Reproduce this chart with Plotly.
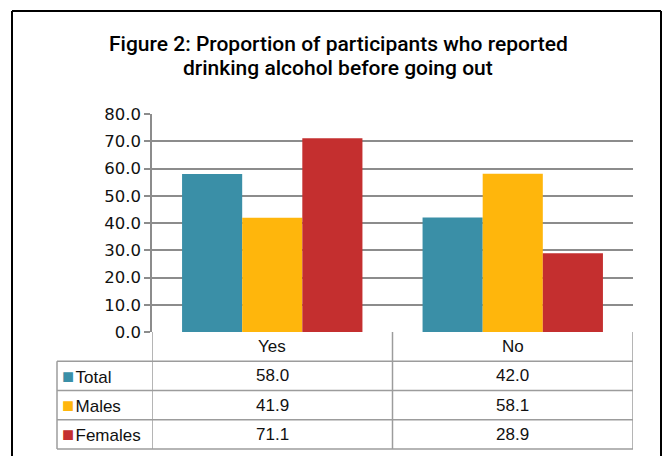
import plotly.graph_objects as go

categories = ["Yes", "No"]
series_names = ["Total", "Males", "Females"]
total = [58.0, 42.0]
males = [41.9, 58.1]
females = [71.1, 28.9]
colors = ["#3A8FA7", "#FFB60C", "#C42F2F"]
y_ticks = [0, 10, 20, 30, 40, 50, 60, 70, 80]
title_lines = ["Figure 2: Proportion of participants who reported",
               "drinking alcohol before going out"]

W, H = 663, 456
values = [total, males, females]

fig = go.Figure()
for name, vals, col in zip(series_names, values, colors):
    fig.add_trace(go.Bar(x=list(range(len(categories))), y=vals, name=name,
                         marker_color=col, marker_line_width=0, showlegend=False))

# plot area in pixels
px_l, px_r, py_top, py_bot = 152, 633, 114, 332
xd = [px_l / W, px_r / W]
yd = [(H - py_bot) / H, (H - py_top) / H]

def py(p):  # pixel y -> paper y
    return (H - p) / H

# ---- data table below the plot ----
tbl_left, tbl_bot = 57, 449
n_rows = len(series_names) + 1
row_h = (tbl_bot - py_bot) / n_rows
grid = "#9c9c9c"
shapes = []
for r in range(1, n_rows + 1):
    yy = py(py_bot + r * row_h)
    shapes.append(dict(type="line", xref="paper", yref="paper",
                       x0=tbl_left / W, x1=px_r / W, y0=yy, y1=yy,
                       line=dict(color=grid, width=1.5)))
shapes.append(dict(type="line", xref="paper", yref="paper",
                   x0=tbl_left / W, x1=tbl_left / W, y0=py(py_bot + row_h), y1=py(tbl_bot),
                   line=dict(color=grid, width=1.5)))
for i in range(len(categories) + 1):
    shapes.append(dict(type="line", xref="x", yref="paper",
                       x0=i - 0.5, x1=i - 0.5, y0=yd[0], y1=py(tbl_bot),
                       line=dict(color=grid, width=1.5)))
# outer frame (top, left, right; bottom is outside the picture)
fx0, fx1, fy1 = 12 / W, 661 / W, py(11)
frame = dict(color="black", width=2)
shapes.append(dict(type="line", xref="paper", yref="paper", x0=fx0, x1=fx1, y0=fy1, y1=fy1, line=frame))
shapes.append(dict(type="line", xref="paper", yref="paper", x0=fx0, x1=fx0, y0=0, y1=fy1, line=frame))
shapes.append(dict(type="line", xref="paper", yref="paper", x0=fx1, x1=fx1, y0=0, y1=fy1, line=frame))

tfont = dict(family="Liberation Sans, Arial", size=17, color="#111")
annotations = []
# title
for line, yc in zip(title_lines, [44, 68]):
    annotations.append(dict(x=338 / W, xref="paper", y=py(yc), yref="paper",
                            text=line, showarrow=False, xanchor="center", yanchor="middle",
                            font=dict(family="Roboto, Liberation Sans, Arial", size=21,
                                      color="#000", weight=500)))
for i, cat in enumerate(categories):
    annotations.append(dict(x=i, xref="x", y=py(py_bot + row_h / 2), yref="paper",
                            text=cat, showarrow=False, font=tfont,
                            xanchor="center", yanchor="middle"))
for r, (name, vals, col) in enumerate(zip(series_names, values, colors)):
    yc = py(py_bot + (r + 1.5) * row_h)
    annotations.append(dict(x=(tbl_left + 3) / W, xref="paper", y=yc, yref="paper",
                            text=f'<span style="color:{col};font-size:20px">■</span>\u200a{name}',
                            showarrow=False, font=tfont,
                            xanchor="left", yanchor="middle"))
    for i in range(len(categories)):
        annotations.append(dict(x=i, xref="x", y=yc, yref="paper",
                                text=f"{vals[i]:.1f}", showarrow=False, font=tfont,
                                xanchor="center", yanchor="middle"))

fig.update_layout(
    width=W, height=H, autosize=False, showlegend=False,
    margin=dict(l=0, r=0, t=0, b=0, pad=0, autoexpand=False),
    paper_bgcolor="white", plot_bgcolor="white",
    barmode="group", bargap=0.25, bargroupgap=0,
    xaxis=dict(domain=xd, range=[-0.5, len(categories) - 0.5], automargin=False,
               showticklabels=False, ticks="", showline=False,
               showgrid=False, zeroline=False, fixedrange=True),
    yaxis=dict(domain=yd, range=[0, 80], tickvals=y_ticks, automargin=False,
               ticktext=[f"{t:.1f}" for t in y_ticks],
               showgrid=True, gridcolor="#8c8c8c", gridwidth=1.5,
               showline=True, linecolor="#8c8c8c", linewidth=1.5,
               ticks="outside", ticklen=6, tickcolor="#8c8c8c", tickwidth=1.5,
               zeroline=False, fixedrange=True,
               tickfont=dict(family="DejaVu Sans", size=16.5, color="#111")),
    shapes=shapes,
    annotations=annotations,
)

fig.write_html("out.html", post_script="document.body.style.margin='0';",
               config={"displayModeBar": False})
